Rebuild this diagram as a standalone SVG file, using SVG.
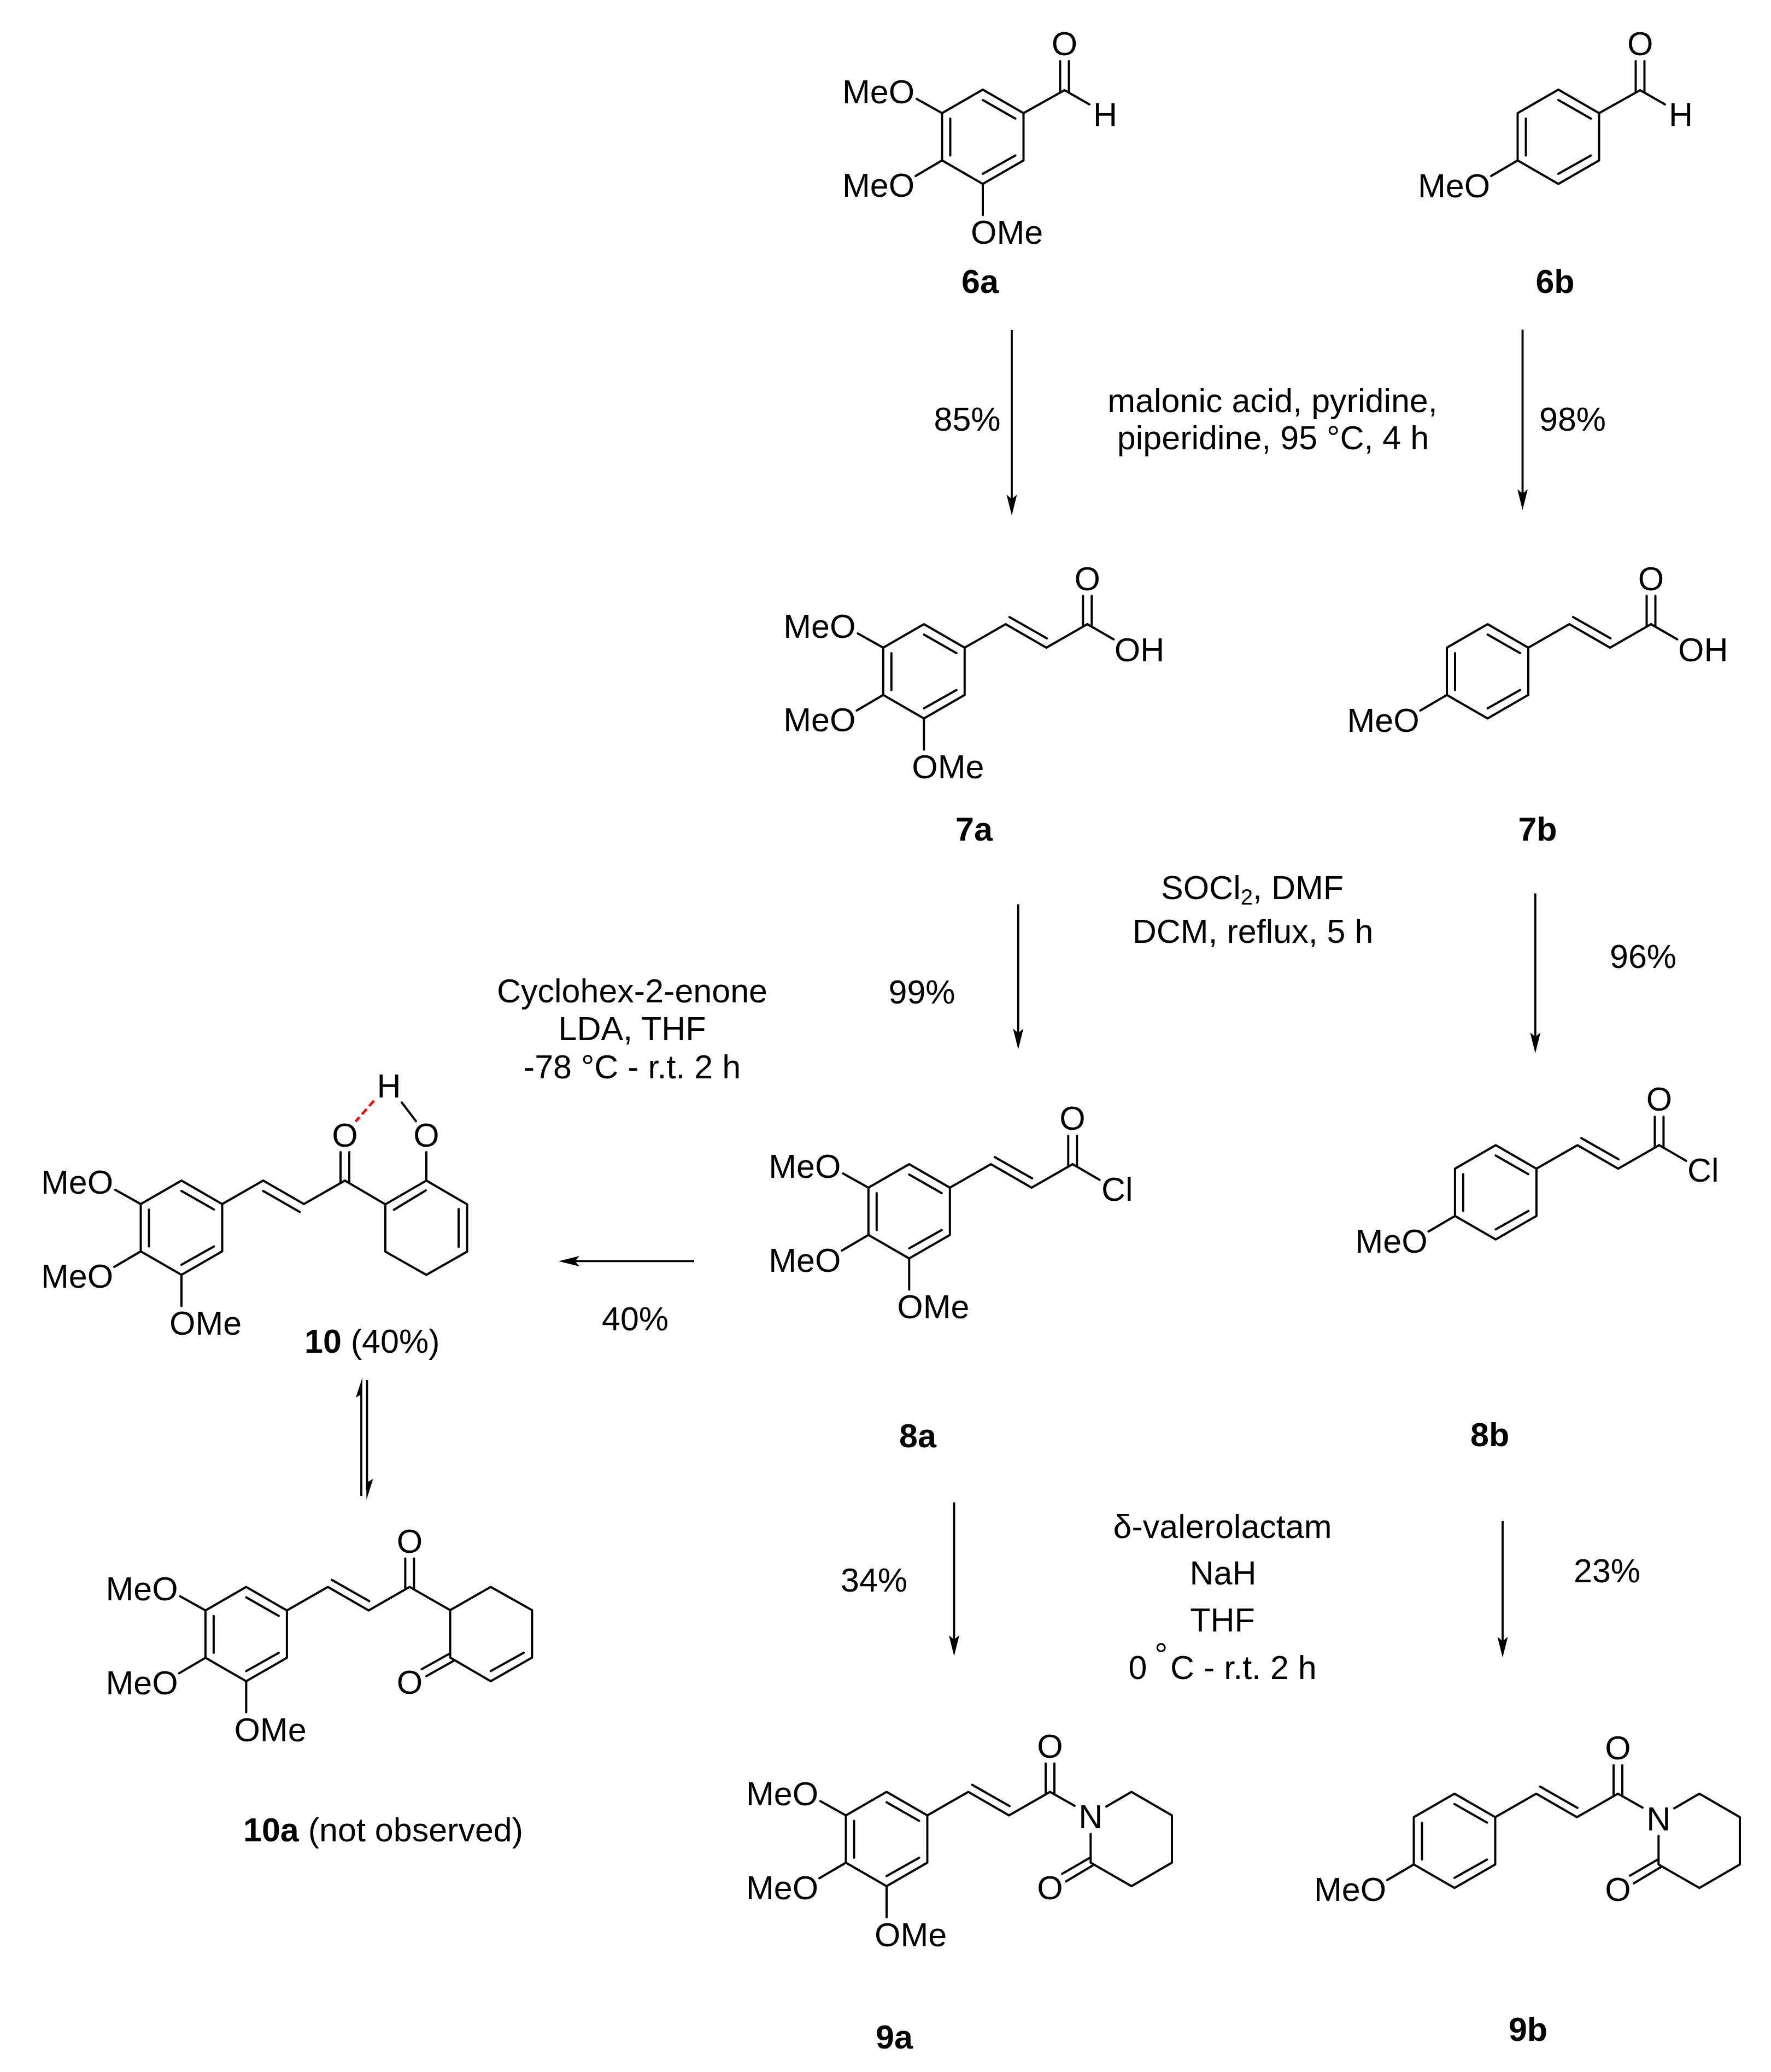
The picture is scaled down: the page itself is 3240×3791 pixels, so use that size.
<svg xmlns="http://www.w3.org/2000/svg" xmlns:xlink="http://www.w3.org/1999/xlink" width="3240" height="3791" viewBox="0 0 3240 3791">
<style>
.b{fill:none;stroke:#000;stroke-width:4;stroke-linecap:round;stroke-linejoin:round}
.a{fill:none;stroke:#000;stroke-width:3.8}
text{font-family:"Liberation Sans",Arial,sans-serif;font-size:61px;fill:#000}
.c{text-anchor:middle}
.l{font-weight:700;text-anchor:middle}
.s{font-weight:700}
</style>
<defs>
<path id="tmp" d="M0 0L74.5 43V129.5L0 172.5L-74.5 129.5V43ZM0 19L59.5 53M-59.5 53V120.5M59.5 120.5L0 154M-74.5 43L-121 17M-74.5 129.5L-123 158M0 172.5V229.5"/>
<path id="pmp" d="M0 0L74.5 43V129.5L0 172.5L-74.5 129.5V43ZM0 19L59.5 53M-59.5 53V120.5M59.5 120.5L0 154M-74.5 129.5L-123 158"/>
<path id="cin" d="M74.5 43L149.5 0L224 43L299 0M156.5 -13L225 26M291 -52V4.5M307 -52V4.5"/>
<path id="lac" d="M299 0L344 25.5M402 26.8L448 0L522 43V129.5L448 172.5L373.3 129.5V77M371 121L321 150M378 134L328 164"/>
<marker id="ah" markerUnits="userSpaceOnUse" markerWidth="38" markerHeight="20" viewBox="0 -10 38 20" refX="28" refY="0" orient="auto"><path d="M0 -9.5L38 0L0 9.5L8 0Z" fill="#000"/></marker>
</defs>

<g id="connectors">
<line class="a" x1="1851" y1="604" x2="1851" y2="933" marker-end="url(#ah)"/>
<line class="a" x1="2785.5" y1="603" x2="2785.5" y2="923" marker-end="url(#ah)"/>
<line class="a" x1="1862.8" y1="1654.5" x2="1862.8" y2="1910" marker-end="url(#ah)"/>
<line class="a" x1="2808.8" y1="1634.6" x2="2808.8" y2="1917" marker-end="url(#ah)"/>
<line class="a" x1="1745.5" y1="2748.7" x2="1745.5" y2="3020" marker-end="url(#ah)"/>
<line class="a" x1="2749" y1="2783" x2="2749" y2="3022.7" marker-end="url(#ah)"/>
<line class="a" x1="1270" y1="2307.4" x2="1032" y2="2307.4" marker-end="url(#ah)"/>
<path class="a" d="M661 2737V2540"/>
<path d="M663 2520L651 2557L662.6 2550Z" fill="#000"/>
<path class="a" d="M671.5 2525V2725"/>
<path d="M670.5 2744L682.5 2706L670 2713Z" fill="#000"/>
</g>

<g id="reagents">
<text class="c" x="2328" y="754">malonic acid, pyridine,</text>
<text class="c" x="2329" y="822">piperidine, 95 °C, 4 h</text>
<text class="c" x="1769.5" y="788">85%</text>
<text class="c" x="2877" y="788">98%</text>
<text class="c" x="2291" y="1645">SOCl<tspan font-size="40" dy="10">2</tspan><tspan dy="-10">, DMF</tspan></text>
<text class="c" x="2292" y="1725">DCM, reflux, 5 h</text>
<text class="c" x="3006" y="1771">96%</text>
<text class="c" x="1686.5" y="1836">99%</text>
<text class="c" x="1156.5" y="1833.5">Cyclohex-2-enone</text>
<text class="c" x="1156.5" y="1903">LDA, THF</text>
<text class="c" x="1156.5" y="1973">-78 °C - r.t. 2 h</text>
<text class="c" x="1162" y="2434">40%</text>
<text class="c" x="1599" y="2912">34%</text>
<text class="c" x="2940" y="2895">23%</text>
<text class="c" x="2236.5" y="2814">δ-valerolactam</text>
<text class="c" x="2237.5" y="2899">NaH</text>
<text class="c" x="2236.5" y="2985">THF</text>
<text x="2064.5" y="3071.7">0</text>
<text x="2112" y="3049" font-size="42">°</text>
<text x="2141" y="3071.7">C - r.t. 2 h</text>
</g>

<g id="node-6a" transform="translate(1798 164)" class="b">
<use href="#tmp"/>
<path d="M74.5 43L149.5 1L195 27M141.5 -52V4.5M157.5 -52V4.5"/>
</g>
<g id="label-6a">
<text x="1541" y="188.5">MeO</text><text x="1541" y="359.5">MeO</text><text x="1776" y="446">OMe</text>
<text class="c" x="1947.5" y="101">O</text><text class="c" x="2022" y="231">H</text>
<text class="l" x="1793" y="536">6a</text>
</g>

<g id="node-6b" transform="translate(2851 164)" class="b"><use href="#pmp"/>
<path d="M74.5 43L149.5 1L195 27M141.5 -52V4.5M157.5 -52V4.5"/></g>
<g id="label-6b">
<text x="2594" y="361">MeO</text>
<text class="c" x="3000.7" y="101">O</text><text class="c" x="3075" y="231">H</text>
<text class="l" x="2845" y="536">6b</text>
</g>

<g id="node-7a" transform="translate(1690.3 1142)" class="b"><use href="#tmp"/><use href="#cin"/><path d="M299 0L347 27.8"/></g>
<g id="label-7a">
<text x="1433.3" y="1166.5">MeO</text><text x="1433.3" y="1338">MeO</text><text x="1668.3" y="1424">OMe</text>
<text class="c" x="1989.3" y="1079.5">O</text><text x="2038.8" y="1209.6">OH</text>
<text class="l" x="1782" y="1538">7a</text>
</g>

<g id="node-7b" transform="translate(2721.5 1142)" class="b"><use href="#pmp"/><use href="#cin"/><path d="M299 0L347 27.8"/></g>
<g id="label-7b">
<text x="2464.5" y="1338.5">MeO</text>
<text class="c" x="3020.5" y="1079.5">O</text><text x="3070" y="1209.6">OH</text>
<text class="l" x="2813" y="1538">7b</text>
</g>

<g id="node-8a" transform="translate(1663.3 2130)" class="b"><use href="#tmp"/><use href="#cin"/><path d="M299 0L348.4 28.7"/></g>
<g id="label-8a">
<text x="1406.3" y="2154.5">MeO</text><text x="1406.3" y="2327">MeO</text><text x="1641.3" y="2412">OMe</text>
<text class="c" x="1962" y="2067">O</text><text x="2015" y="2197">Cl</text>
<text class="l" x="1679" y="2647.7">8a</text>
</g>

<g id="node-8b" transform="translate(2736.4 2095.2)" class="b"><use href="#pmp"/><use href="#cin"/><path d="M299 0L348.4 28.7"/></g>
<g id="label-8b">
<text x="2479.4" y="2291.6">MeO</text>
<text class="c" x="3035.4" y="2031.8">O</text><text x="3087" y="2162.4">Cl</text>
<text class="l" x="2725.7" y="2646">8b</text>
</g>

<g id="node-9a" transform="translate(1622 3278.5)" class="b"><use href="#tmp"/><use href="#cin"/><use href="#lac"/></g>
<g id="label-9a">
<text x="1365" y="3303">MeO</text><text x="1365" y="3474.5">MeO</text><text x="1600" y="3560.5">OMe</text>
<text class="c" x="1921" y="3216">O</text><text class="c" x="1995.3" y="3344.6">N</text><text class="c" x="1921" y="3474.6">O</text>
<text class="l" x="1636" y="3748">9a</text>
</g>

<g id="node-9b" transform="translate(2661 3281.8)" class="b"><use href="#pmp"/><use href="#cin"/><use href="#lac"/></g>
<g id="label-9b">
<text x="2404" y="3478">MeO</text>
<text class="c" x="2960" y="3219">O</text><text class="c" x="3034.3" y="3349">N</text><text class="c" x="2960" y="3478">O</text>
<text class="l" x="2795.5" y="3734">9b</text>
</g>

<g id="node-10" transform="translate(332 2160)" class="b"><use href="#tmp"/>
<path d="M74.5 43L149.5 0L224 43L299 0L373 43.5L448 0L522.6 43.5V130L448 172.6L373 130V43.5M149.5 19L216.5 57.5M291 -52V4.5M307 -52V4.5M447 18L388.6 53.5M507 52V121.6M448 0V-52M403 -143L429 -108.6"/>
<path d="M352 -146L318.5 -108" style="stroke:#f00;stroke-width:4.5;stroke-linecap:butt;stroke-dasharray:13 7"/>
</g>
<g id="label-10">
<text x="75" y="2184">MeO</text><text x="75" y="2355.5">MeO</text><text x="310" y="2442">OMe</text>
<text class="c" x="631" y="2098">O</text><text class="c" x="780" y="2098">O</text><text class="c" x="711.5" y="2008">H</text>
<text x="557" y="2474.7"><tspan class="s">10</tspan> (40%)</text>
</g>

<g id="node-10a" transform="translate(450.4 2903.6)" class="b"><use href="#tmp"/>
<path d="M74.5 43L149.5 0L224 43L299 0L373.2 42.4L447.3 0L523 42.4V129.2L447.3 172.3L373.2 129.2V42.4M156.5 -13L225 26M291 -52V4.5M307 -52V4.5M447.3 153.9L507.6 120.4M372.6 121.7L321 150.4M380 134.9L329.6 163.1"/>
</g>
<g id="label-10a">
<text x="193.4" y="2928">MeO</text><text x="193.4" y="3099.5">MeO</text><text x="428.4" y="3185.6">OMe</text>
<text class="c" x="749.5" y="2840.5">O</text><text class="c" x="749.5" y="3099">O</text>
<text x="445" y="3368.6"><tspan class="s">10a</tspan> (not observed)</text>
</g>
</svg>
